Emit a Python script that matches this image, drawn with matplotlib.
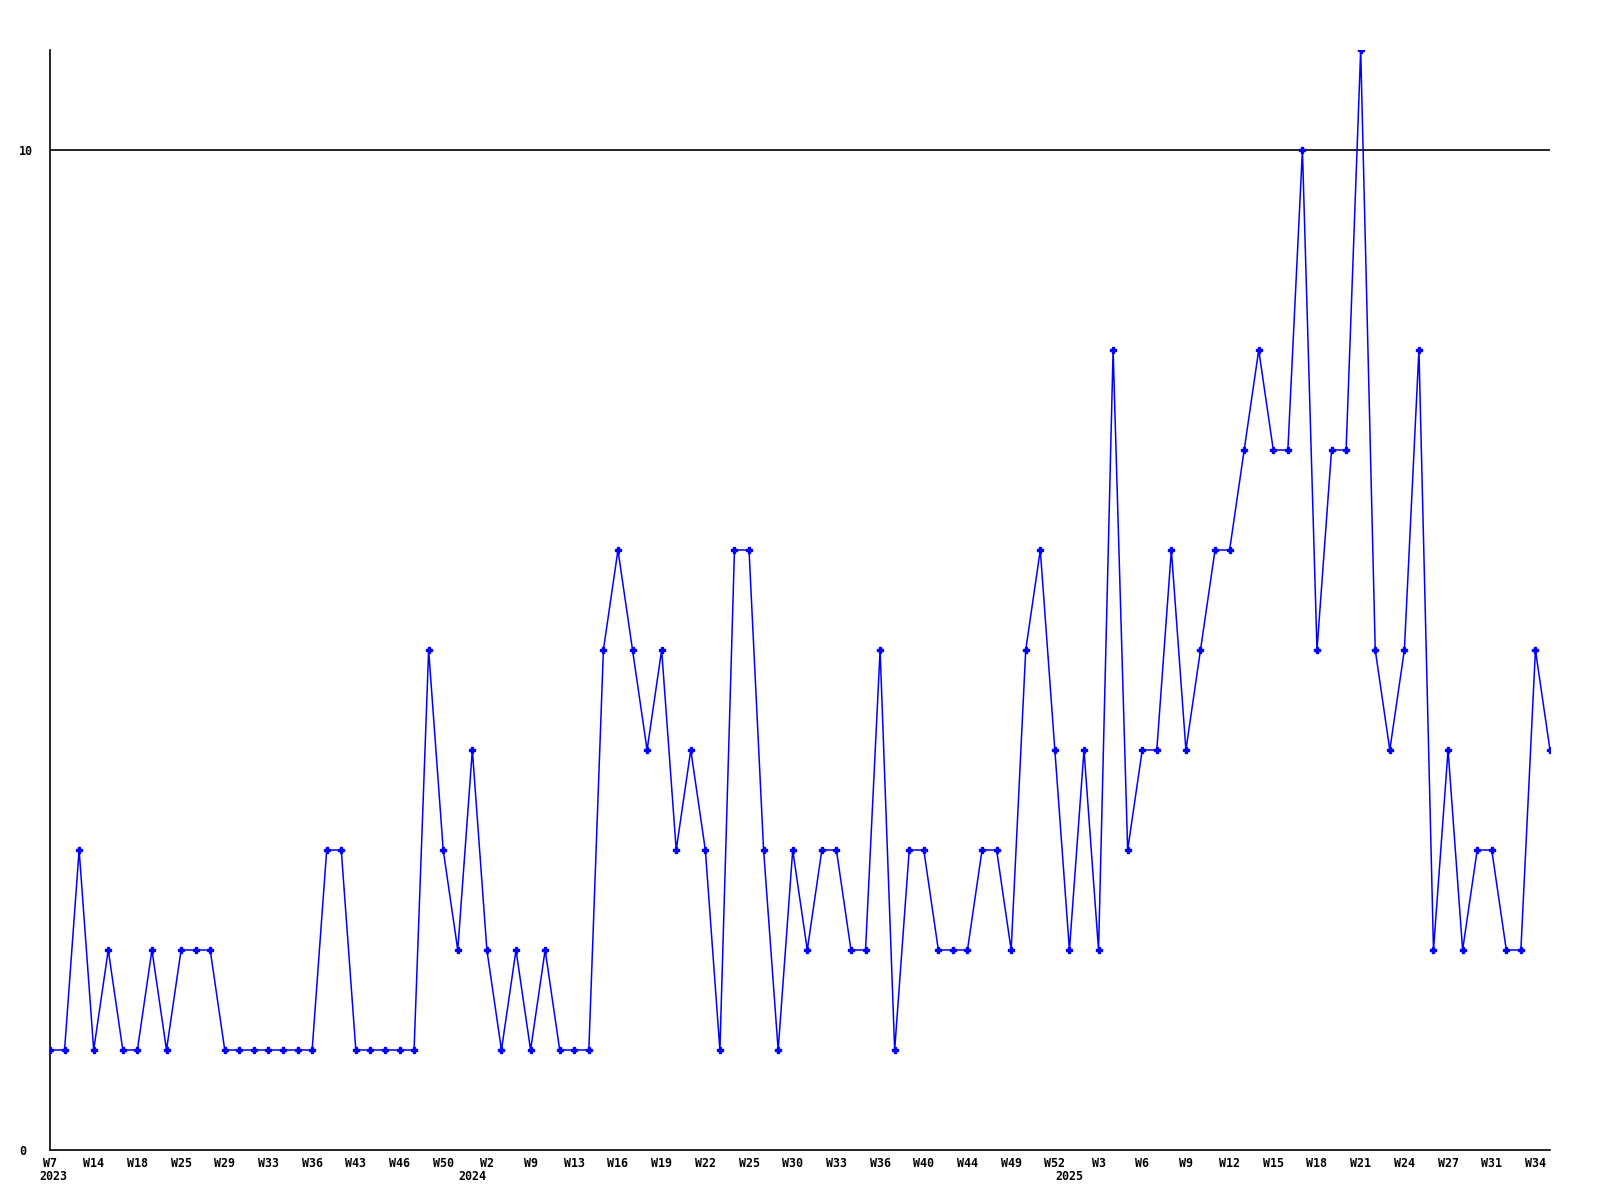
import matplotlib
matplotlib.use("Agg")
import matplotlib.pyplot as plt
import matplotlib.transforms as mtransforms

# weekly counts, 2023 W7 .. 2025 W34 (weeks with data only)
values = [1, 1, 3, 1, 2, 1, 1, 2, 1, 2, 2, 2, 1, 1, 1, 1, 1, 1, 1, 3,
          3, 1, 1, 1, 1, 1, 5, 3, 2, 4, 2, 1, 2, 1, 2, 1, 1, 1, 5, 6,
          5, 4, 5, 3, 4, 3, 1, 6, 6, 3, 1, 3, 2, 3, 3, 2, 2, 5, 1, 3,
          3, 2, 2, 2, 3, 3, 2, 5, 6, 4, 2, 4, 2, 8, 3, 4, 4, 6, 4, 5,
          6, 6, 7, 8, 7, 7, 10, 5, 7, 7, 11, 5, 4, 5, 8, 2, 4, 2, 3, 3,
          2, 2, 5, 4]

# every third point gets a label
tick_labels = ["W7", "W14", "W18", "W25", "W29", "W33", "W36", "W43", "W46",
               "W50", "W2", "W9", "W13", "W16", "W19", "W22", "W25", "W30",
               "W33", "W36", "W40", "W44", "W49", "W52", "W3", "W6", "W9",
               "W12", "W15", "W18", "W21", "W24", "W27", "W31", "W34"]
years = ["2023", "2024", "2025"]
year_idx = [0, 29, 70]   # first point of each year

W, H = 1600, 1200
fig = plt.figure(figsize=(16, 12), dpi=100)
ax = fig.add_axes([50 / W, 50 / H, 1500 / W, 1100 / H])

x = list(range(len(values)))
ax.plot(x, values, color="#0000ff", lw=1.1, marker="P", ms=4,
        mec="#0000ff", mfc="#0000ff", zorder=3)
ax.axhline(10, color="black", lw=1.2, zorder=2)

ax.set_xlim(0, len(values) - 1)
ax.set_ylim(0, 11)

for s in ["top", "right"]:
    ax.spines[s].set_visible(False)
for s in ["left", "bottom"]:
    ax.spines[s].set_linewidth(1.2)

font = dict(family="DejaVu Sans Mono", weight="bold", size=8.4)

tick_pos = list(range(0, len(values), 3))
ax.set_xticks(tick_pos)
ax.set_xticklabels(tick_labels, **font)
ax.tick_params(axis="x", length=0, pad=5)

ax.set_yticks([0, 10])
ax.set_yticklabels(["0", "10"], **font)
ax.tick_params(axis="y", length=0, pad=22.3)
for lbl in ax.get_yticklabels():
    lbl.set_horizontalalignment("left")

trans = mtransforms.blended_transform_factory(ax.transData, fig.transFigure)
for i, (p, yr) in enumerate(zip(year_idx, years)):
    ax.text(p - 0.75 if i == 0 else p, 1 - 1177 / H, yr, transform=trans,
            ha="left" if i == 0 else "center", va="center", **font)

fig.savefig("out.png", dpi=100)
